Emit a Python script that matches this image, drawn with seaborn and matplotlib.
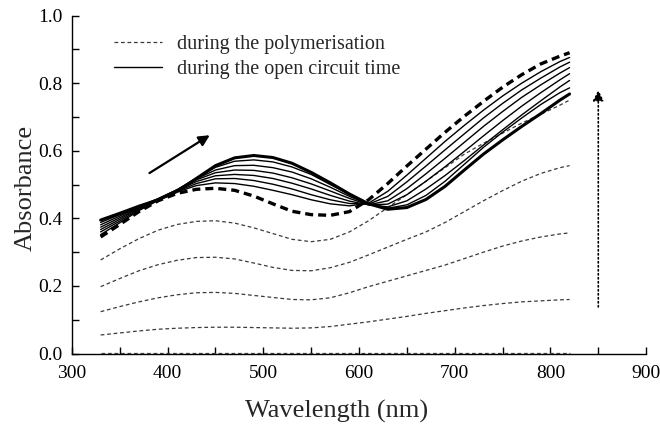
import matplotlib
matplotlib.use("Agg")
import matplotlib.pyplot as plt
from matplotlib.lines import Line2D
from matplotlib.ticker import MultipleLocator
import seaborn as sns
import pandas as pd

# Wavelength grid of the recorded spectra (nm)
wavelength = [330, 350, 370, 390, 410, 430, 450, 470, 490, 510, 530, 550, 570,
              590, 610, 630, 650, 670, 690, 710, 730, 750, 770, 790, 810, 820]

# Spectra recorded during the polymerisation
poly_1 = [0.002] * 26
poly_2 = [0.055, 0.061, 0.067, 0.072, 0.075, 0.077, 0.078, 0.078, 0.077, 0.076, 0.075, 0.076, 0.080,
          0.087, 0.094, 0.102, 0.110, 0.119, 0.127, 0.135, 0.142, 0.148, 0.153, 0.156, 0.159, 0.160]
poly_3 = [0.124, 0.139, 0.153, 0.165, 0.174, 0.180, 0.181, 0.178, 0.172, 0.166, 0.160, 0.159, 0.165,
          0.180, 0.198, 0.214, 0.230, 0.246, 0.262, 0.281, 0.300, 0.318, 0.333, 0.345, 0.354, 0.357]
poly_4 = [0.198, 0.222, 0.245, 0.263, 0.276, 0.284, 0.285, 0.280, 0.268, 0.255, 0.246, 0.245, 0.254,
          0.270, 0.292, 0.315, 0.338, 0.360, 0.388, 0.420, 0.452, 0.482, 0.510, 0.533, 0.550, 0.556]
poly_5 = [0.277, 0.310, 0.340, 0.365, 0.382, 0.391, 0.393, 0.386, 0.372, 0.355, 0.338, 0.331, 0.338,
          0.360, 0.393, 0.432, 0.470, 0.510, 0.550, 0.590, 0.622, 0.652, 0.682, 0.708, 0.735, 0.750]
# End of the polymerisation (start of the open circuit period)
poly_end = [0.345, 0.382, 0.420, 0.452, 0.474, 0.486, 0.489, 0.483, 0.466, 0.443, 0.421, 0.411, 0.409,
            0.420, 0.455, 0.503, 0.555, 0.605, 0.655, 0.702, 0.746, 0.788, 0.825, 0.857, 0.880, 0.890]

# Spectra recorded during the open circuit time
ocp_1 = [0.352, 0.387, 0.423, 0.453, 0.478, 0.497, 0.505, 0.503, 0.495, 0.483, 0.470, 0.455, 0.443,
         0.437, 0.445, 0.480, 0.528, 0.578, 0.628, 0.675, 0.720, 0.762, 0.800, 0.834, 0.864, 0.876]
ocp_2 = [0.360, 0.392, 0.426, 0.455, 0.480, 0.503, 0.517, 0.518, 0.512, 0.501, 0.487, 0.470, 0.455,
         0.444, 0.442, 0.465, 0.508, 0.555, 0.603, 0.650, 0.697, 0.740, 0.780, 0.815, 0.848, 0.862]
ocp_3 = [0.367, 0.397, 0.429, 0.456, 0.482, 0.509, 0.526, 0.530, 0.527, 0.518, 0.504, 0.487, 0.468,
         0.451, 0.440, 0.452, 0.488, 0.532, 0.578, 0.625, 0.672, 0.716, 0.758, 0.795, 0.830, 0.846]
ocp_4 = [0.374, 0.402, 0.431, 0.457, 0.484, 0.514, 0.535, 0.543, 0.542, 0.534, 0.520, 0.502, 0.481,
         0.459, 0.440, 0.442, 0.470, 0.510, 0.553, 0.598, 0.644, 0.689, 0.732, 0.772, 0.810, 0.828]
ocp_5 = [0.381, 0.407, 0.433, 0.458, 0.485, 0.517, 0.543, 0.556, 0.557, 0.550, 0.537, 0.517, 0.492,
         0.465, 0.441, 0.434, 0.452, 0.487, 0.527, 0.571, 0.617, 0.662, 0.706, 0.748, 0.789, 0.808]
ocp_6 = [0.388, 0.411, 0.434, 0.458, 0.485, 0.519, 0.551, 0.569, 0.573, 0.567, 0.552, 0.530, 0.500,
         0.470, 0.442, 0.430, 0.440, 0.468, 0.510, 0.560, 0.610, 0.655, 0.697, 0.737, 0.772, 0.786]
ocp_end = [0.395, 0.415, 0.436, 0.455, 0.480, 0.518, 0.556, 0.579, 0.586, 0.580, 0.563, 0.536, 0.505,
           0.472, 0.443, 0.427, 0.432, 0.456, 0.495, 0.543, 0.590, 0.632, 0.672, 0.710, 0.750, 0.768]

legend_labels = ["during the polymerisation", "during the open circuit time"]
x_label = "Wavelength (nm)"
y_label = "Absorbance"

sns.set_style("ticks")
plt.rcParams["font.family"] = ["Liberation Serif", "DejaVu Serif"]

fig = plt.figure(figsize=(6.6, 4.26), dpi=100)
ax = fig.add_axes([0.109, 0.170, 0.870, 0.7935])

thin_dash = (0, (3.0, 2.2))
thick_dash = (0, (2.4, 1.5))

for series in [poly_1, poly_2, poly_3, poly_4, poly_5]:
    df = pd.DataFrame({"wl": wavelength, "abs": series})
    sns.lineplot(data=df, x="wl", y="abs", ax=ax, color="#3a3a3a", lw=0.9,
                 linestyle=thin_dash, zorder=3)

for series in [ocp_1, ocp_2, ocp_3, ocp_4, ocp_5, ocp_6]:
    df = pd.DataFrame({"wl": wavelength, "abs": series})
    sns.lineplot(data=df, x="wl", y="abs", ax=ax, color="black", lw=1.0, zorder=4)

df = pd.DataFrame({"wl": wavelength, "abs": poly_end})
sns.lineplot(data=df, x="wl", y="abs", ax=ax, color="black", lw=2.4,
             linestyle=thick_dash, zorder=5)
df = pd.DataFrame({"wl": wavelength, "abs": ocp_end})
sns.lineplot(data=df, x="wl", y="abs", ax=ax, color="black", lw=2.2, zorder=5)

# Direction of change of the spectra
ax.annotate("", xy=(444, 0.646), xytext=(381, 0.534),
            arrowprops=dict(arrowstyle="-|>", color="black", lw=1.6,
                            mutation_scale=16, shrinkA=0, shrinkB=0))
ax.annotate("", xy=(850, 0.78), xytext=(850, 0.138),
            arrowprops=dict(arrowstyle="-|>", color="black", lw=1.2, linestyle=(0, (0.8, 1.6)),
                            mutation_scale=16, shrinkA=0, shrinkB=0))

ax.set_xlim(300, 900)
ax.set_ylim(0.0, 1.0)
ax.xaxis.set_major_locator(MultipleLocator(100))
ax.xaxis.set_minor_locator(MultipleLocator(50))
ax.yaxis.set_major_locator(MultipleLocator(0.2))
ax.yaxis.set_minor_locator(MultipleLocator(0.1))
ax.yaxis.set_major_formatter(plt.FuncFormatter(lambda v, p: f"{v:.1f}"))
ax.tick_params(axis="both", which="both", direction="in", length=5, width=1.0,
               labelsize=14, colors="black")
ax.tick_params(axis="x", which="major", pad=8)
ax.tick_params(axis="y", which="major", pad=7)

for side in ["top", "right"]:
    ax.spines[side].set_visible(False)
for side in ["left", "bottom"]:
    ax.spines[side].set_color("black")
    ax.spines[side].set_linewidth(1.0)

ax.set_xlabel(x_label, fontsize=19)
ax.xaxis.set_label_coords(0.46, -0.137)
ax.set_ylabel(y_label, fontsize=19)
ax.yaxis.set_label_coords(-0.062, 0.49)

handles = [Line2D([], [], color="#3a3a3a", lw=0.9, linestyle=thin_dash),
           Line2D([], [], color="black", lw=1.0)]
ax.legend(handles, legend_labels, loc="upper left", bbox_to_anchor=(0.066, 0.955),
          frameon=False, fontsize=14.5, handlelength=2.4, handletextpad=0.75,
          labelspacing=0.3, borderaxespad=0, borderpad=0.2)

fig.savefig("out.png", dpi=100)
